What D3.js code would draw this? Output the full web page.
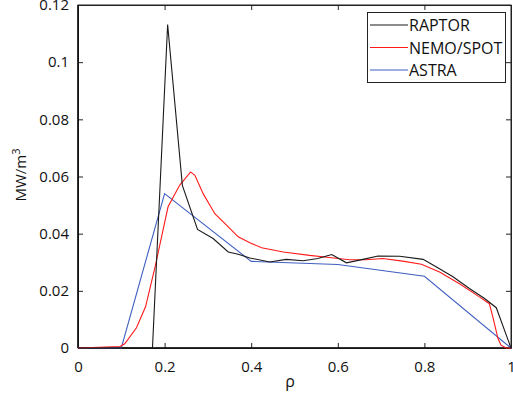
<!DOCTYPE html>
<html lang="en">
<head>
<meta charset="utf-8">
<title>Power deposition profiles</title>
<script src="https://cdnjs.cloudflare.com/ajax/libs/d3/7.8.5/d3.min.js"></script>
<style>
  body { margin: 0; background: #fff; }
  svg text { font-family: "Open Sans", "DejaVu Sans", sans-serif; fill: #111; }
</style>
</head>
<body>
<div class="chart"></div>
<script>
// data
var seriesNames = ["RAPTOR", "NEMO/SPOT", "ASTRA"];
var seriesColors = ["#1a1a1a", "#ff1a1a", "#3f5fc0"];

var raptorRho = [0, 0.172, 0.207, 0.241, 0.276, 0.312, 0.347, 0.37, 0.397, 0.443, 0.481, 0.52, 0.554, 0.586, 0.62, 0.658, 0.693, 0.743, 0.797, 0.827, 0.866, 0.904, 0.939, 0.966, 1];
var raptorVal = [0, 0, 0.1132, 0.0569, 0.0415, 0.0383, 0.0336, 0.0328, 0.0315, 0.0301, 0.031, 0.0305, 0.0313, 0.0327, 0.0298, 0.031, 0.0322, 0.0321, 0.031, 0.0284, 0.0249, 0.0208, 0.0173, 0.0141, 0];

var nemoRho = [0, 0.097, 0.108, 0.135, 0.156, 0.178, 0.208, 0.235, 0.26, 0.27, 0.289, 0.316, 0.343, 0.37, 0.397, 0.424, 0.474, 0.535, 0.585, 0.627, 0.666, 0.704, 0.75, 0.793, 0.835, 0.881, 0.927, 0.95, 0.958, 0.97, 0.977, 0.989, 1];
var nemoVal = [0, 0.0005, 0.0015, 0.0071, 0.0144, 0.0284, 0.0494, 0.057, 0.0616, 0.0604, 0.054, 0.047, 0.043, 0.0389, 0.0368, 0.0351, 0.0336, 0.0324, 0.0316, 0.0309, 0.0309, 0.0313, 0.0304, 0.0293, 0.0266, 0.0225, 0.0179, 0.0155, 0.0109, 0.0033, 0.001, 0, 0];

var astraRho = [0, 0.1, 0.2, 0.4, 0.6, 0.8, 1];
var astraVal = [0, 0, 0.054, 0.0303, 0.0292, 0.0251, 0];

var xTicks = [0, 0.2, 0.4, 0.6, 0.8, 1];
var yTicks = [0, 0.02, 0.04, 0.06, 0.08, 0.1, 0.12];

var width = 513, height = 398;
var plotL = 78, plotR = 511, plotT = 5, plotB = 348;

var svg = d3.select(".chart").append("svg")
    .attr("width", width)
    .attr("height", height);

var x = d3.scaleLinear().domain([0, 1]).range([plotL, plotR]);
var y = d3.scaleLinear().domain([0, 0.12]).range([plotB, plotT]);

// frame
svg.append("rect")
    .attr("x", plotL).attr("y", plotT)
    .attr("width", plotR - plotL).attr("height", plotB - plotT)
    .attr("fill", "none").attr("stroke", "#222").attr("stroke-width", 1);

// ticks pointing inwards, labels only on bottom/left
var xAxis = svg.append("g").attr("transform", "translate(0," + plotB + ")")
    .call(d3.axisBottom(x).tickValues(xTicks).tickSizeInner(-5).tickSizeOuter(0).tickPadding(10)
        .tickFormat(d3.format("")));
var yAxis = svg.append("g").attr("transform", "translate(" + plotL + ",0)")
    .call(d3.axisLeft(y).tickValues(yTicks).tickSizeInner(-5).tickSizeOuter(0).tickPadding(9)
        .tickFormat(d3.format("")));
svg.append("g").attr("transform", "translate(0," + plotT + ")")
    .call(d3.axisTop(x).tickValues(xTicks).tickSizeInner(-5).tickSizeOuter(0).tickFormat(""));
svg.append("g").attr("transform", "translate(" + plotR + ",0)")
    .call(d3.axisRight(y).tickValues(yTicks).tickSizeInner(-5).tickSizeOuter(0).tickFormat(""));

svg.selectAll(".domain").attr("stroke", "#222");
svg.selectAll(".tick line").attr("stroke", "#222");
svg.selectAll(".tick text").attr("font-size", 15).attr("fill", "#111");
xAxis.selectAll(".tick text").attr("dy", "0.9em");

// thicker left & bottom
svg.append("line").attr("x1", plotL).attr("x2", plotL).attr("y1", plotT).attr("y2", plotB)
    .attr("stroke", "#111").attr("stroke-width", 1.5);
svg.append("line").attr("x1", plotL).attr("x2", plotR).attr("y1", plotB).attr("y2", plotB)
    .attr("stroke", "#111").attr("stroke-width", 1.5);

// axis titles
svg.append("text")
    .attr("x", 290).attr("y", 387)
    .attr("text-anchor", "middle").attr("font-size", 16)
    .text("ρ");

var yl = svg.append("text")
    .attr("transform", "translate(26,175) rotate(-90)")
    .attr("text-anchor", "middle").attr("font-size", 15);
yl.append("tspan").text("MW/m");
yl.append("tspan").attr("dy", -6).attr("font-size", 11).text("3");

// lines
var line = d3.line().x(function(d) { return x(d[0]); }).y(function(d) { return y(d[1]); });
var seriesData = [
    d3.zip(raptorRho, raptorVal),
    d3.zip(nemoRho, nemoVal),
    d3.zip(astraRho, astraVal)
];
// draw ASTRA first, then NEMO, then RAPTOR on top
[2, 1, 0].forEach(function(i) {
    svg.append("path")
        .datum(seriesData[i])
        .attr("fill", "none")
        .attr("stroke", seriesColors[i])
        .attr("stroke-width", 1.1)
        .attr("d", line);
});

// legend
var legend = svg.append("g");
legend.append("rect")
    .attr("x", 367.5).attr("y", 12.5).attr("width", 138).attr("height", 70)
    .attr("fill", "#fff").attr("stroke", "#222").attr("stroke-width", 1);
seriesNames.forEach(function(name, i) {
    var ly = 25 + i * 22.5;
    legend.append("line")
        .attr("x1", 370).attr("x2", 408).attr("y1", ly).attr("y2", ly)
        .attr("stroke", seriesColors[i]).attr("stroke-width", 1.1);
    legend.append("text")
        .attr("x", 409).attr("y", ly + 6)
        .attr("font-size", 16)
        .text(name);
});
</script>
</body>
</html>
